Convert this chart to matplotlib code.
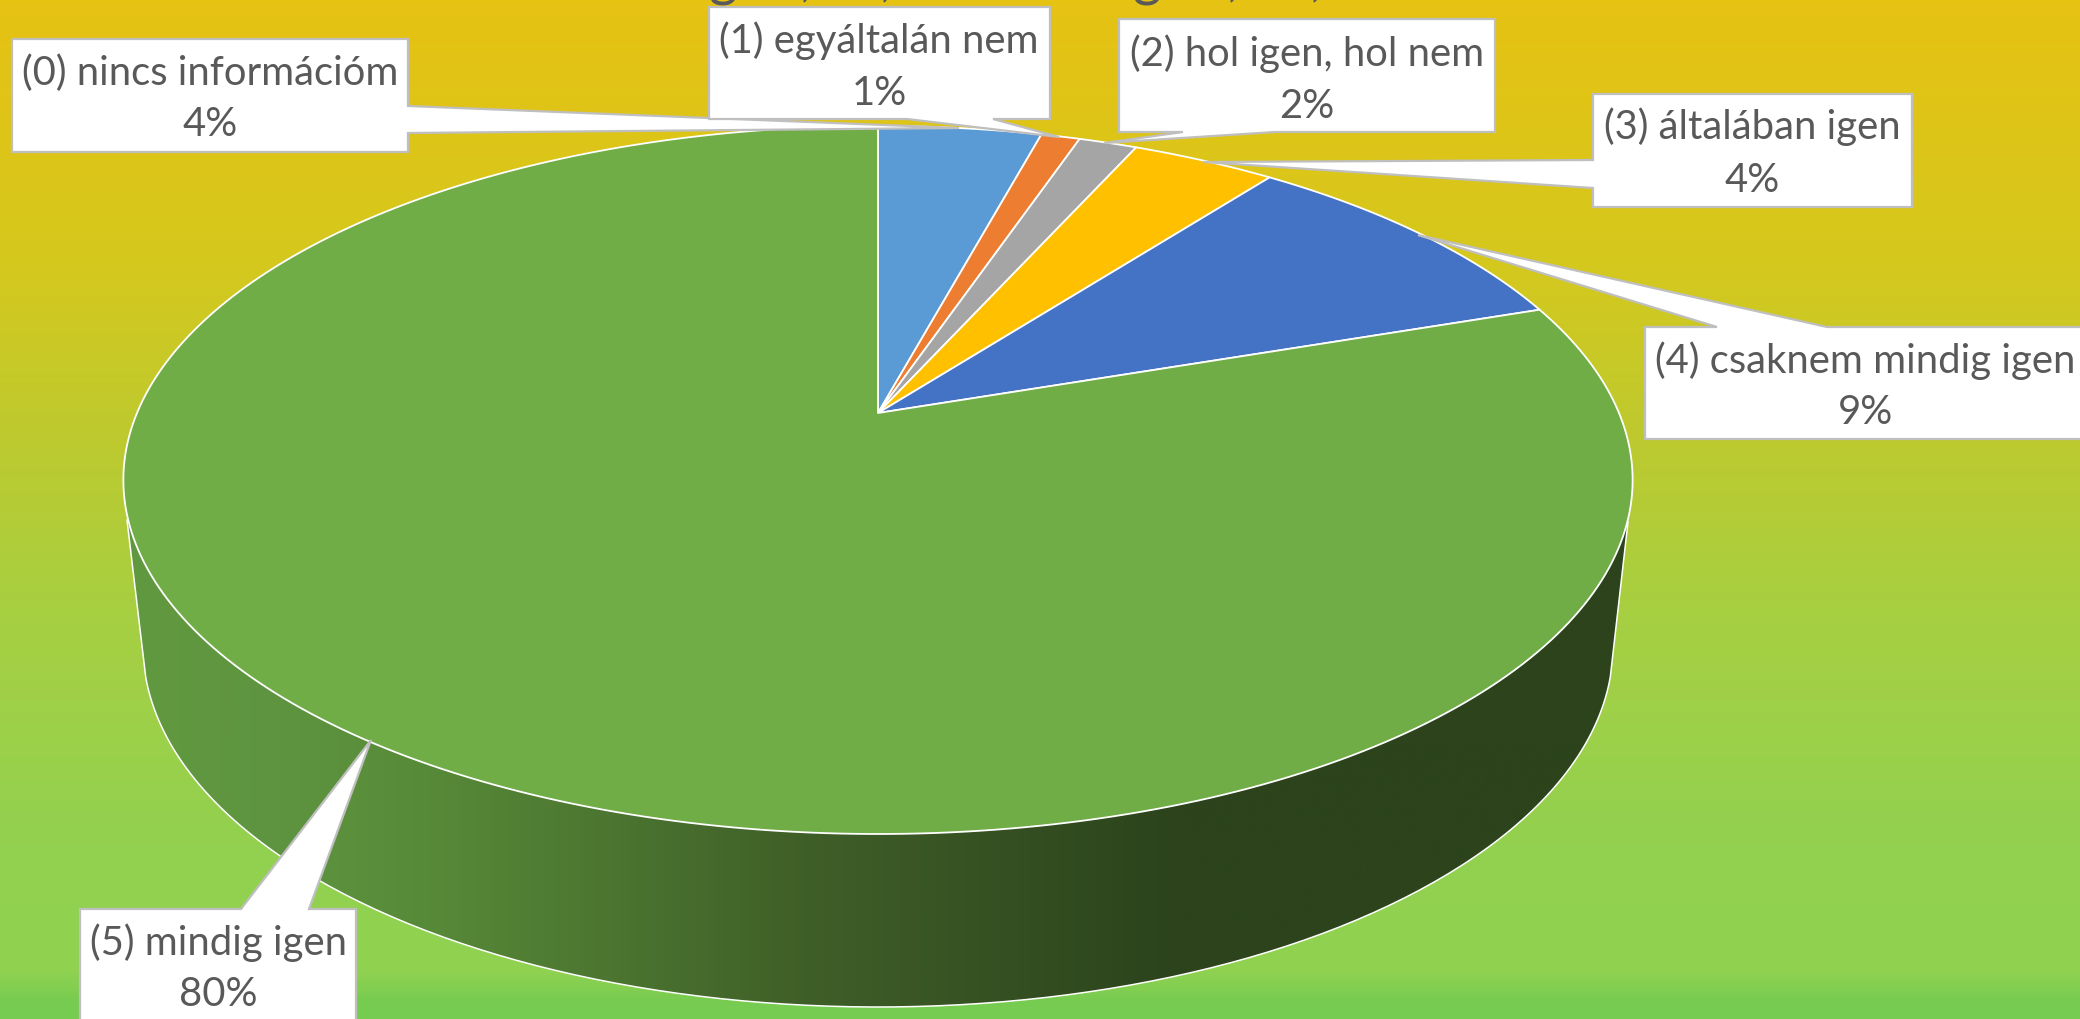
import numpy as np
import matplotlib.pyplot as plt
from matplotlib.colors import LinearSegmentedColormap
from matplotlib.patches import Polygon

# Adatok (a szeletek arányát a képről becsültem, a címkék ezek kerekítései)
kategoriak = ['(0) nincs információm', '(1) egyáltalán nem', '(2) hol igen, hol nem',
              '(3) általában igen', '(4) csaknem mindig igen', '(5) mindig igen']
ertekek = [4.2, 1.0, 1.5, 3.7, 9.4, 80.2]
szinek = ['#5B9BD5', '#ED7D31', '#A5A5A5', '#FFC000', '#4472C4', '#70AD47']

plt.rcParams['font.family'] = ['Lato', 'DejaVu Sans']

W, H = 2080, 1019
fig = plt.figure(figsize=(W / 100, H / 100), dpi=100)
ax = fig.add_axes([0, 0, 1, 1])
ax.set_xlim(0, W)
ax.set_ylim(H, 0)
ax.axis('off')

# Háttér színátmenet
hatter = LinearSegmentedColormap.from_list('hatter', [
    (0.0, '#E6C213'), (0.25, '#D6C81D'), (0.44, '#BCCA30'), (0.59, '#A8CF40'),
    (0.69, '#9FD048'), (0.83, '#92D14F'), (0.955, '#90D150'), (0.985, '#77CC50'), (1.0, '#76CC50')])
ax.imshow(np.linspace(0, 1, 1019)[:, None], cmap=hatter, extent=[0, W, H, 0], aspect='auto', zorder=0)

# Perspektíva: a kör közepe nem az ellipszis közepére esik
cx, apex_y, top_y, bot_y, A = 878, 413, 126, 834, 741
p = ((bot_y - apex_y) - (apex_y - top_y)) / ((bot_y - apex_y) + (apex_y - top_y))
B = (apex_y - top_y) * (1 + p)


def vetit(szog):
    u, v = np.sin(szog), np.cos(szog)
    return cx + A * u / (1 + p * v), apex_y - B * v / (1 + p * v)


# Oldalfal
t = np.linspace(0.086, np.pi - 0.086, 200)
fal_x = np.r_[1628, 878 + 735 * np.cos(t), 127]
fal_y = np.r_[522, 646 + 361 * np.sin(t), 520]
fal = Polygon(np.c_[fal_x, fal_y], closed=True, fc='none', ec='none')
ax.add_patch(fal)
fal_cmap = LinearSegmentedColormap.from_list('fal', [
    (0.0, '#61993F'), (0.1, '#5E9440'), (0.2, '#578A38'), (0.45, '#3F5F28'),
    (0.7, '#2C431C'), (1.0, '#2C431C')])
kep = ax.imshow(np.linspace(0, 1, 512)[None, :], cmap=fal_cmap, extent=[127, 1628, 1010, 480],
                aspect='auto', zorder=1)
kep.set_clip_path(fal)
ax.plot(fal_x, fal_y, color='white', lw=1.1, zorder=2)

# Szeletek a tetején
hatarok = np.r_[0, np.cumsum(ertekek)] / np.sum(ertekek) * 2 * np.pi
for i, szin in enumerate(szinek):
    szog = np.linspace(hatarok[i], hatarok[i + 1], 300)
    x, y = vetit(szog)
    pontok = np.c_[np.r_[cx, x], np.r_[apex_y, y]]
    ax.add_patch(Polygon(pontok, closed=True, fc=szin, ec='white', lw=1.3, zorder=3, joinstyle='round'))

# Feliratdobozok: doboz, mutató, szöveg helye
dobozok = [
    [(12, 39), (408, 39), (408, 106), (959, 128), (408, 133), (408, 152), (12, 152)],
    [(709, 7), (1050, 7), (1050, 119), (993, 119), (1059, 137), (907, 119), (709, 119)],
    [(1119, 19), (1495, 19), (1495, 132), (1275, 132), (1104, 143), (1183, 132), (1119, 132)],
    [(1593, 94), (1912, 94), (1912, 207), (1593, 207), (1593, 188), (1203, 162), (1593, 160)],
    [(1645, 327), (1717, 327), (1418, 235), (1827, 327), (2085, 327), (2085, 439), (1645, 439)],
    [(80, 909), (241, 909), (371, 740), (309, 909), (356, 909), (356, 1025), (80, 1025)],
]
szoveg_hely = [(210, 73, 124), (879, 41, 93), (1307, 54, 106), (1752, 127, 180), (1865, 361, 413), (218, 943, 995)]

for doboz, nev, ertek, (tx, y1, y2) in zip(dobozok, kategoriak, ertekek, szoveg_hely):
    ax.add_patch(Polygon(doboz, closed=True, fc='white', ec='#BFBFBF', lw=1.6, zorder=4))
    ax.text(tx, y1, nev, ha='center', va='center', fontsize=28.8, color='#595959', zorder=5)
    ax.text(tx, y2, f'{round(ertek)}%', ha='center', va='center', fontsize=28.8, color='#595959', zorder=5)

# A cím a kép tetején levágva, csak az alsó szárak látszanak
for x, betu in [(723, 'g'), (806, ','), (886, ','), (1147, 'g'), (1233, ','), (1316, ',')]:
    ax.text(x, -6, betu, ha='center', va='baseline', fontsize=40, color='#595959', zorder=2)

fig.savefig('out.png', dpi=100)
